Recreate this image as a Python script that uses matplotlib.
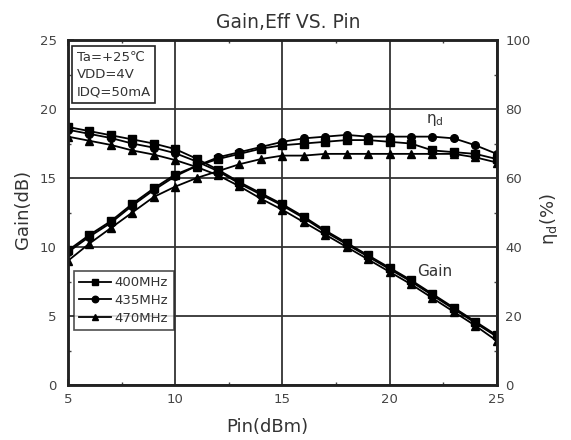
import numpy as np
import matplotlib
matplotlib.use('agg')
import matplotlib.pyplot as plt  # noqa
from matplotlib.ticker import MultipleLocator

plt.rcParams['font.family'] = ['DejaVu Sans']

pin = [5, 6, 7, 8, 9, 10, 11, 12, 13, 14, 15, 16, 17, 18, 19, 20, 21, 22, 23, 24, 25]

# gain (dB), left axis
gain_400 = [18.7, 18.4, 18.1, 17.8, 17.5, 17.1, 16.4, 15.6, 14.7, 13.9, 13.1,
            12.2, 11.2, 10.3, 9.4, 8.5, 7.6, 6.6, 5.6, 4.6, 3.6]
gain_435 = [18.5, 18.2, 17.9, 17.5, 17.2, 16.8, 16.2, 15.5, 14.6, 13.8, 13.0,
            12.1, 11.1, 10.2, 9.3, 8.4, 7.5, 6.5, 5.5, 4.5, 3.5]
gain_470 = [18.0, 17.7, 17.4, 17.0, 16.7, 16.3, 15.8, 15.2, 14.4, 13.5, 12.7,
            11.8, 10.9, 10.0, 9.1, 8.2, 7.3, 6.3, 5.3, 4.3, 3.2]

# drain efficiency (%), right axis
eff_400 = [39, 43.5, 47.5, 52.5, 57, 61, 63.5, 65.5, 67, 68.5, 69.5,
           70, 70.5, 71, 71, 70.5, 70, 68, 67.5, 67, 65.5]
eff_435 = [38.5, 43, 47, 52, 56.5, 60.5, 63.5, 66, 67.5, 69, 70.5,
           71.5, 72, 72.5, 72, 72, 72, 72, 71.5, 69.5, 67]
eff_470 = [36, 41, 45.5, 50, 54.5, 57.5, 60, 62, 64, 65.5, 66.5,
           66.5, 67, 67, 67, 67, 67, 67, 67, 66, 64.5]

labels = ['400MHz', '435MHz', '470MHz']
markers = ['s', 'o', '^']
txt = '#333333'

fig = plt.figure(figsize=(5.71, 4.4), dpi=100)
ax = fig.add_axes([0.119, 0.125, 0.751, 0.784])
ax2 = ax.twinx()

style = dict(color='black', lw=1.3, ms=5.5)
handles = []
for g, m, lab in zip([gain_400, gain_435, gain_470], markers, labels):
    h, = ax.plot(pin, g, marker=m, label=lab, **style)
    handles.append(h)
for e, m in zip([eff_400, eff_435, eff_470], markers):
    ax2.plot(pin, e, marker=m, **style)

ax.set_xlim(5, 25)
ax.set_ylim(0, 25)
ax2.set_ylim(0, 100)
ax.xaxis.set_major_locator(MultipleLocator(5))
ax.xaxis.set_minor_locator(MultipleLocator(2.5))
ax.yaxis.set_major_locator(MultipleLocator(5))
ax.yaxis.set_minor_locator(MultipleLocator(2.5))
ax2.yaxis.set_major_locator(MultipleLocator(20))
ax2.yaxis.set_minor_locator(MultipleLocator(10))

ax.grid(True, which='major', color='#333333', lw=1.3)
for a in (ax, ax2):
    a.tick_params(which='both', direction='in', labelsize=9.5,
                  colors='#444444', pad=6)
    a.tick_params(which='major', length=4, width=1.2)
    a.tick_params(which='minor', length=2.5, width=1)
    for s in a.spines.values():
        s.set_linewidth(1.8)
        s.set_color('#222222')
ax.tick_params(which='both', top=True)
ax.tick_params(axis='y', pad=8)

ax.set_xlabel('Pin(dBm)', fontsize=13, color=txt)
ax.xaxis.set_label_coords(0.466, -0.095)
ax.set_ylabel('Gain(dB)', fontsize=13, color=txt)
ax.yaxis.set_label_coords(-0.084, 0.51)
ax2.set_ylabel(r'$\mathregular{\eta_d}$(%)', fontsize=13, color=txt)
ax2.yaxis.set_label_coords(1.095, 0.48)
ax.set_title('Gain,Eff VS. Pin', fontsize=13.5, color=txt, x=0.513, pad=9)

ax.text(5.4, 24.2, 'Ta=+25\u2103\nVDD=4V\nIDQ=50mA', fontsize=9.5, va='top',
        linespacing=1.4, color=txt,
        bbox=dict(boxstyle='square,pad=0.35', fc='white', ec='#222222', lw=1.2))
ax2.text(21.7, 76, r'$\mathregular{\eta_d}$', fontsize=11, color=txt)
ax.text(21.3, 7.9, 'Gain', fontsize=11, color=txt)

leg = ax.legend(handles=handles, loc='lower left', bbox_to_anchor=(0.014, 0.16),
                borderaxespad=0, fontsize=9.5, frameon=True, fancybox=False,
                handlelength=2.4, borderpad=0.4, labelspacing=0.35,
                handletextpad=0.3, markerscale=0.85)
leg.get_frame().set_edgecolor('#222222')
leg.get_frame().set_linewidth(1.2)
for t in leg.get_texts():
    t.set_color(txt)

fig.savefig('out.png', dpi=100)
